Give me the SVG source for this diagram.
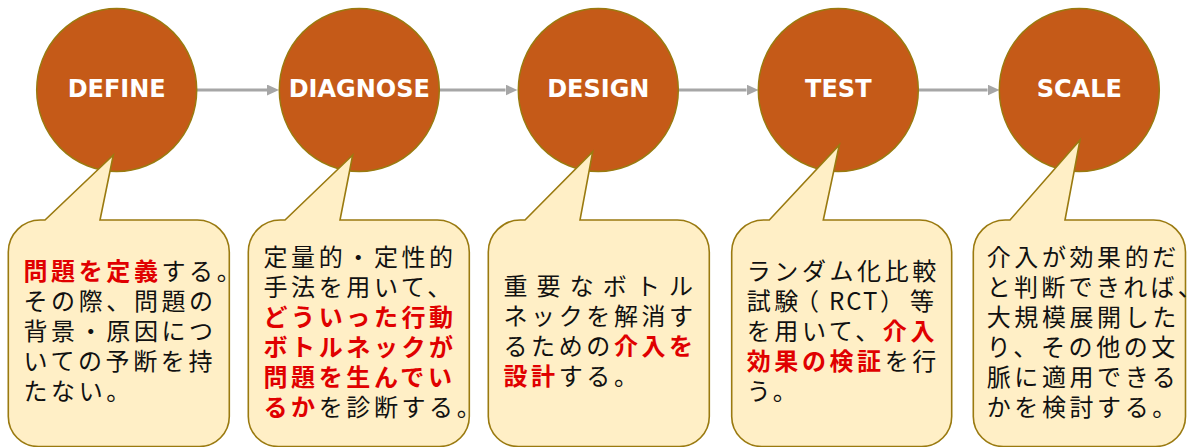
<svg xmlns="http://www.w3.org/2000/svg" width="1187" height="447" viewBox="0 0 1187 447">
<style>
.circ{fill:#C55A18;stroke:#9A7A10;stroke-width:1.5}
.lbl{font-family:"DejaVu Sans","Liberation Sans",sans-serif;font-weight:bold;font-size:24px;fill:#FFFFFF;text-anchor:middle}
.box{fill:#FFEFC6;stroke:#9A7A10;stroke-width:1.6}
.conn{stroke:#A6A6A6;stroke-width:3.2;fill:none}
.t{font-family:"Noto Sans CJK JP","Noto Sans",sans-serif;font-size:24px;fill:#111111;letter-spacing:3.6px}
.r{fill:#E00000;font-weight:bold}
</style>
<defs>
<marker id="ah" viewBox="0 0 12 11" refX="0" refY="5.5" markerWidth="12" markerHeight="11" markerUnits="userSpaceOnUse" orient="auto">
<path d="M0,0 L12,5.5 L0,11 Z" fill="#A6A6A6"/>
</marker>
</defs>
<rect width="1187" height="447" fill="#FFFFFF"/>

<g id="connectors">
<line class="conn" x1="197" y1="90" x2="267" y2="90" marker-end="url(#ah)"/>
<line class="conn" x1="439.5" y1="90" x2="505.5" y2="90" marker-end="url(#ah)"/>
<line class="conn" x1="678.5" y1="90" x2="746.5" y2="90" marker-end="url(#ah)"/>
<line class="conn" x1="918.5" y1="90" x2="987.5" y2="90" marker-end="url(#ah)"/>
</g>

<g id="define">
<ellipse class="circ" cx="116.7" cy="90" rx="80" ry="81.5"/>
<text class="lbl" x="116.7" y="97">DEFINE</text>
</g>
<g id="diagnose">
<ellipse class="circ" cx="359.3" cy="90" rx="80" ry="81.5"/>
<text class="lbl" x="359.3" y="97">DIAGNOSE</text>
</g>
<g id="design">
<ellipse class="circ" cx="598.3" cy="90" rx="80" ry="81.5"/>
<text class="lbl" x="598.3" y="97">DESIGN</text>
</g>
<g id="test">
<ellipse class="circ" cx="838.3" cy="90" rx="80" ry="81.5"/>
<text class="lbl" x="838.3" y="97">TEST</text>
</g>
<g id="scale">
<ellipse class="circ" cx="1079.3" cy="90" rx="80" ry="81.5"/>
<text class="lbl" x="1079.3" y="97">SCALE</text>
</g>

<g id="note-define">
<path class="box" d="M40.3,220 L45,220 L113.3,155 L100,220 L197.3,220 A32,32 0 0 1 229.3,252 L229.3,416.5 A30,30 0 0 1 199.3,446.5 L38.3,446.5 A30,30 0 0 1 8.3,416.5 L8.3,252 A32,32 0 0 1 40.3,220 Z"/>
<text class="t" x="23.5" y="280"><tspan class="r">問題を定義</tspan>する。</text>
<text class="t" x="23.5" y="310">その際、問題の</text>
<text class="t" x="23.5" y="340">背景・原因につ</text>
<text class="t" x="23.5" y="370">いての予断を持</text>
<text class="t" x="23.5" y="400">たない。</text>
</g>

<g id="note-diagnose">
<path class="box" d="M280.3,220 L285,220 L352.7,155 L340,220 L437.3,220 A32,32 0 0 1 469.3,252 L469.3,416.5 A30,30 0 0 1 439.3,446.5 L278.3,446.5 A30,30 0 0 1 248.3,416.5 L248.3,252 A32,32 0 0 1 280.3,220 Z"/>
<text class="t" x="263.5" y="266">定量的・定性的</text>
<text class="t" x="263.5" y="296">手法を用いて、</text>
<text class="t r" x="263.5" y="326">どういった行動</text>
<text class="t r" x="263.5" y="356">ボトルネックが</text>
<text class="t r" x="263.5" y="386">問題を生んでい</text>
<text class="t" x="263.5" y="416"><tspan class="r">るか</tspan>を診断する。</text>
</g>

<g id="note-design">
<path class="box" d="M520.3,220 L525,220 L592.7,151.7 L580,220 L677.3,220 A32,32 0 0 1 709.3,252 L709.3,416.5 A30,30 0 0 1 679.3,446.5 L518.3,446.5 A30,30 0 0 1 488.3,416.5 L488.3,252 A32,32 0 0 1 520.3,220 Z"/>
<text class="t" x="503.5" y="295" style="letter-spacing:9.1px">重要なボトル</text>
<text class="t" x="503.5" y="325">ネックを解消す</text>
<text class="t" x="503.5" y="355">るための<tspan class="r">介入を</tspan></text>
<text class="t" x="503.5" y="385"><tspan class="r">設計</tspan>する。</text>
</g>

<g id="note-test">
<path class="box" d="M763.7,220 L769.3,220 L839.3,145 L823.3,220 L919.7,220 A32,32 0 0 1 951.7,252 L951.7,416.5 A30,30 0 0 1 921.7,446.5 L761.7,446.5 A30,30 0 0 1 731.7,416.5 L731.7,252 A32,32 0 0 1 763.7,220 Z"/>
<text class="t" x="746.7" y="280">ランダム化比較</text>
<text class="t" y="310"><tspan x="746.7">試験</tspan><tspan x="795">（</tspan><tspan x="829" style="letter-spacing:2px">RCT</tspan><tspan x="880">）</tspan><tspan x="910">等</tspan></text>
<text class="t" x="746.7" y="340">を用いて、<tspan class="r">介入</tspan></text>
<text class="t" x="746.7" y="370"><tspan class="r">効果の検証</tspan>を行</text>
<text class="t" x="746.7" y="400">う。</text>
</g>

<g id="note-scale">
<path class="box" d="M1005.3,220 L1010,220 L1080,140 L1065,220 L1153.5,220 A32,32 0 0 1 1185.5,252 L1185.5,416.5 A30,30 0 0 1 1155.5,446.5 L1003.3,446.5 A30,30 0 0 1 973.3,416.5 L973.3,252 A32,32 0 0 1 1005.3,220 Z"/>
<text class="t" x="986.7" y="266">介入が効果的だ</text>
<text class="t" x="986.7" y="296" style="letter-spacing:3.3px">と判断できれば<tspan style="letter-spacing:-16px">、</tspan></text>
<text class="t" x="986.7" y="326">大規模展開した</text>
<text class="t" x="986.7" y="356">り、その他の文</text>
<text class="t" x="986.7" y="386">脈に適用できる</text>
<text class="t" x="986.7" y="416">かを検討する。</text>
</g>
</svg>
